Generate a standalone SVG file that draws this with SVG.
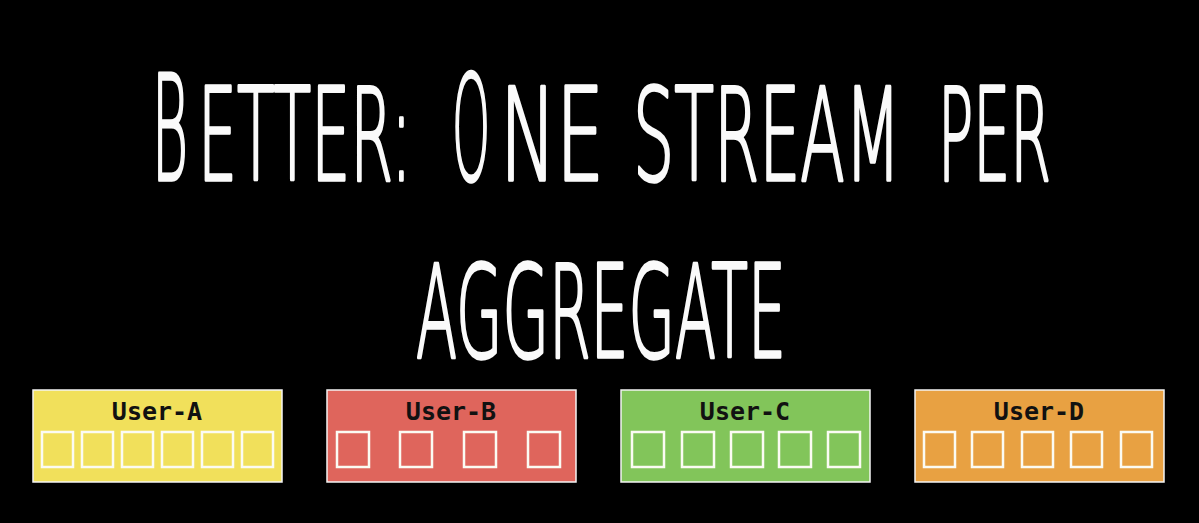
<svg xmlns="http://www.w3.org/2000/svg" width="1199" height="523" viewBox="0 0 1199 523">
<style>
.title{font-family:"DejaVu Sans",sans-serif;font-weight:200;fill:#fafafa;stroke:#fafafa;stroke-width:3.5;stroke-linejoin:round;}
.big{font-size:147px;}
.sm{font-size:128px;}
.box{stroke:#f4f4f4;stroke-width:1.5;}
.lbl{font-family:"DejaVu Sans Mono","Liberation Mono",monospace;font-weight:bold;font-size:25px;fill:#111;text-anchor:middle;}
.sq{fill:none;stroke:#fbfbf3;stroke-width:2.5;}
</style>
<rect width="1199" height="523" fill="#000"/>
<g id="title">
<text class="title big" transform="translate(152,180) scale(0.35,1)" x="0" y="0" textLength="103" lengthAdjust="spacingAndGlyphs">B</text>
<text class="title sm" transform="translate(198,180) scale(0.47,1)" x="0" y="0" textLength="455" lengthAdjust="spacingAndGlyphs">ETTER:</text>
<text class="title big" transform="translate(452,180) scale(0.35,1)" x="0" y="0" textLength="109" lengthAdjust="spacingAndGlyphs">O</text>
<text class="title sm" transform="translate(500,180) scale(0.47,1)" x="0" y="0" textLength="221" lengthAdjust="spacingAndGlyphs">NE</text>
<text class="title sm" transform="translate(633,180) scale(0.47,1)" x="0" y="0" textLength="570" lengthAdjust="spacingAndGlyphs">STREAM</text>
<text class="title sm" transform="translate(938,180) scale(0.47,1)" x="0" y="0" textLength="240" lengthAdjust="spacingAndGlyphs">PER</text>
<text class="title sm" transform="translate(416,357) scale(0.47,1)" x="0" y="0" textLength="787" lengthAdjust="spacingAndGlyphs">AGGREGATE</text>
</g>
<g id="user-a">
<rect class="box" x="33" y="390" width="249" height="92" fill="#f1e05b"/>
<text class="lbl" x="157" y="420">User-A</text>
<rect class="sq" x="42" y="432" width="31" height="35"/>
<rect class="sq" x="82" y="432" width="31" height="35"/>
<rect class="sq" x="122" y="432" width="31" height="35"/>
<rect class="sq" x="162" y="432" width="31" height="35"/>
<rect class="sq" x="202" y="432" width="31" height="35"/>
<rect class="sq" x="242" y="432" width="31" height="35"/>
</g>
<g id="user-b">
<rect class="box" x="327" y="390" width="249" height="92" fill="#df655c"/>
<text class="lbl" x="451" y="420">User-B</text>
<rect class="sq" x="337" y="432" width="32" height="35"/>
<rect class="sq" x="400" y="432" width="32" height="35"/>
<rect class="sq" x="464" y="432" width="32" height="35"/>
<rect class="sq" x="528" y="432" width="32" height="35"/>
</g>
<g id="user-c">
<rect class="box" x="621" y="390" width="249" height="92" fill="#82c55a"/>
<text class="lbl" x="745" y="420">User-C</text>
<rect class="sq" x="632" y="432" width="32" height="35"/>
<rect class="sq" x="682" y="432" width="32" height="35"/>
<rect class="sq" x="731" y="432" width="32" height="35"/>
<rect class="sq" x="779" y="432" width="32" height="35"/>
<rect class="sq" x="828" y="432" width="32" height="35"/>
</g>
<g id="user-d">
<rect class="box" x="915" y="390" width="249" height="92" fill="#e8a142"/>
<text class="lbl" x="1039" y="420">User-D</text>
<rect class="sq" x="924" y="432" width="31" height="35"/>
<rect class="sq" x="972" y="432" width="31" height="35"/>
<rect class="sq" x="1022" y="432" width="31" height="35"/>
<rect class="sq" x="1071" y="432" width="31" height="35"/>
<rect class="sq" x="1121" y="432" width="31" height="35"/>
</g>
<g id="connectors"/>
</svg>
